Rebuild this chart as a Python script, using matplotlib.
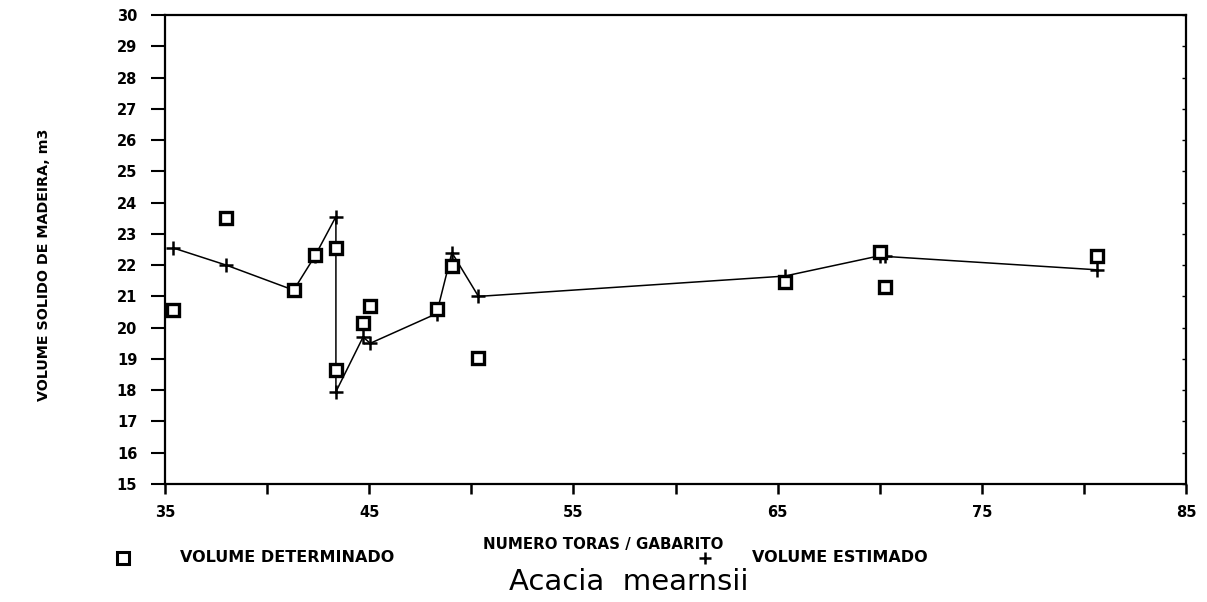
import matplotlib
matplotlib.use("Agg")
import matplotlib.pyplot as plt
from matplotlib.lines import Line2D

# numero toras / gabarito (x) and volume values
toras = [35.4, 38.0, 41.3, 42.35, 43.37, 43.37, 44.7, 45.05, 48.3, 49.05, 50.35, 65.35, 70.0, 70.25, 80.65]
vol_determinado = [20.58, 23.5, 21.2, 22.33, 22.55, 18.65, 20.15, 20.68, 20.6, 21.96, 19.02, 21.45, 22.43, 21.29, 22.28]
vol_estimado = [22.55, 22.0, 21.2, 22.3, 23.55, 17.95, 19.7, 19.5, 20.45, 22.4, 21.0, 21.65, 22.3, 22.28, 21.85]

x_ticks = [35, 40, 45, 50, 55, 60, 65, 70, 75, 80, 85]
x_labels = ["35", "", "45", "", "55", "", "65", "", "75", "", "85"]
y_ticks = list(range(15, 31))

fig = plt.figure(figsize=(12.07, 6.02), dpi=100)
ax = fig.add_axes([165 / 1207, 1 - 484 / 602, (1186 - 165) / 1207, (484 - 15) / 602])

ax.plot(toras, vol_estimado, color="black", lw=1.1, marker="+", ms=10, mew=1.8, zorder=3)
ax.plot(toras, vol_determinado, ls="none", marker="s", ms=9, mfc="white", mec="black", mew=2.4, zorder=4)

ax.set_xlim(35, 85)
ax.set_ylim(15, 30)
ax.set_xticks(x_ticks)
ax.set_xticklabels(x_labels)
ax.set_yticks(y_ticks)
ax.tick_params(axis="y", direction="out", length=10, width=1.5, pad=10, labelsize=10.5)
ax.tick_params(axis="x", direction="out", length=7, width=1.8, pad=8, labelsize=10.5)
ax.tick_params(axis="y", which="major", right=True, labelright=False)
for lab in ax.get_xticklabels() + ax.get_yticklabels():
    lab.set_fontweight("bold")
for sp in ax.spines.values():
    sp.set_linewidth(1.6)

# right side: only tiny marks pointing inward
for t in ax.yaxis.get_major_ticks():
    t.tick2line.set_markersize(3)
    t.tick2line.set_markeredgewidth(1.0)
    t.tick2line.set_marker(matplotlib.lines.TICKLEFT)

fig.text(44 / 1207, 1 - 265 / 602, "VOLUME SOLIDO DE MADEIRA, m3", rotation=90,
         ha="center", va="center", fontsize=10.3, fontweight="bold")
fig.text(603 / 1207, 1 - 544 / 602, "NUMERO TORAS / GABARITO", ha="center", va="center",
         fontsize=10.8, fontweight="bold")
fig.text(629 / 1207, 1 - 582 / 602, "Acacia  mearnsii", ha="center", va="center",
         fontsize=21, color="black")

# legend row
fig.add_artist(Line2D([123 / 1207], [1 - 558 / 602], transform=fig.transFigure, marker="s",
                      ms=8, mfc="white", mec="black", mew=2.2, ls="none"))
fig.text(180 / 1207, 1 - 558 / 602, "VOLUME DETERMINADO", ha="left", va="center",
         fontsize=11.5, fontweight="bold")
fig.add_artist(Line2D([705 / 1207], [1 - 558 / 602], transform=fig.transFigure, marker="+",
                      ms=9, mec="black", mew=1.8, ls="none"))
fig.text(752 / 1207, 1 - 558 / 602, "VOLUME ESTIMADO", ha="left", va="center",
         fontsize=11.5, fontweight="bold")

fig.savefig("out.png", dpi=100)
